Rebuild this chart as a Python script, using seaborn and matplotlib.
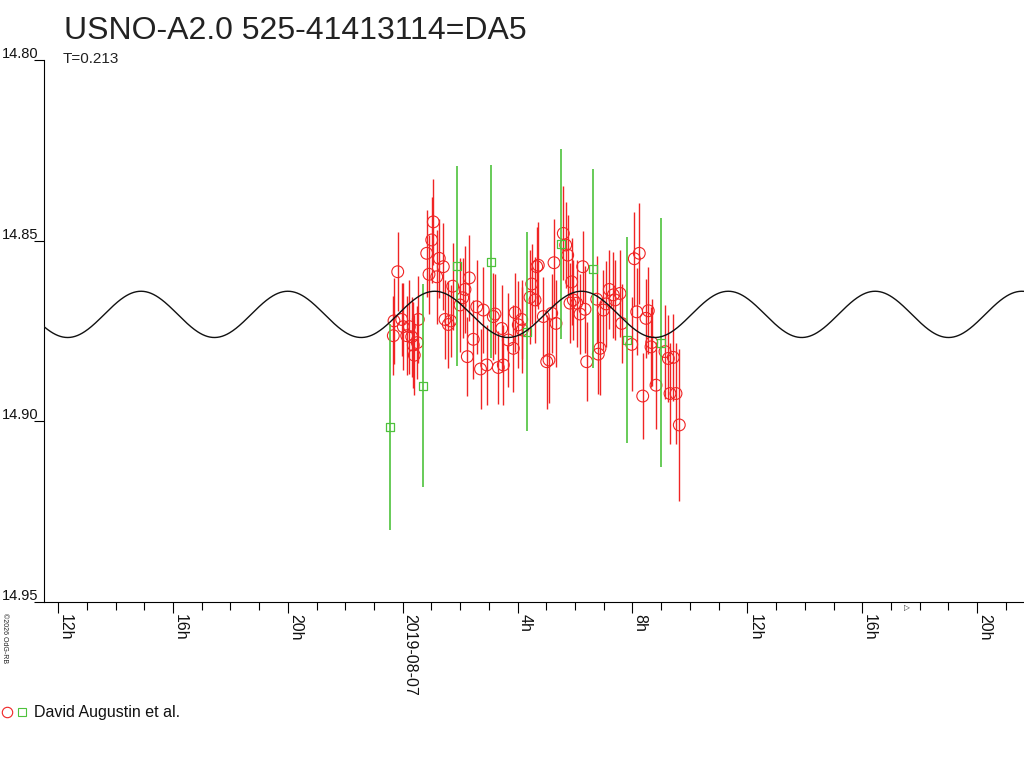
import numpy as np
import pandas as pd
import matplotlib
matplotlib.use("Agg")
import matplotlib.pyplot as plt
import matplotlib.transforms as mtransforms
from matplotlib.lines import Line2D
from matplotlib.legend_handler import HandlerTuple
import seaborn as sns

# ---------------- data ----------------
title = "USNO-A2.0 525-41413114=DA5"
period_label = "T=0.213"
observer = "David Augustin et al."

# hours relative to 2019-08-07 00:00
red_hours = [-0.327, -0.303, -0.174, -0.035, 0.021, 0.139, 0.230, 0.313, 0.369, 0.404,
             0.508, 0.543, 0.836, 0.916, 1.010, 1.065, 1.184, 1.274, 1.414, 1.473,
             1.588, 1.671, 1.741, 1.995, 2.089, 2.169, 2.249, 2.319, 2.458, 2.577,
             2.709, 2.806, 2.925, 3.155, 3.214, 3.329, 3.447, 3.503, 3.677, 3.851,
             3.910, 4.025, 4.143, 4.160, 4.432, 4.492, 4.607, 4.666, 4.721, 4.896,
             5.014, 5.094, 5.188, 5.268, 5.338, 5.592, 5.675, 5.745, 5.825, 5.884,
             5.940, 6.058, 6.173, 6.267, 6.347, 6.407, 6.755, 6.811, 6.870, 6.985,
             7.079, 7.194, 7.333, 7.392, 7.566, 7.625, 7.974, 8.064, 8.148, 8.238,
             8.357, 8.471, 8.552, 8.646, 8.670, 8.820, 9.133, 9.248, 9.307, 9.422,
             9.516, 9.631]
red_mag = [14.8763, 14.8722, 14.8586, 14.8718, 14.8738, 14.8763, 14.8738, 14.8766, 14.8789, 14.8817,
           14.8782, 14.8718, 14.8535, 14.8593, 14.8498, 14.8448, 14.8600, 14.8549, 14.8572, 14.8718,
           14.8732, 14.8722, 14.8626, 14.8678, 14.8658, 14.8635, 14.8821, 14.8603, 14.8773, 14.8683,
           14.8855, 14.8692, 14.8844, 14.8710, 14.8703, 14.8851, 14.8743, 14.8844, 14.8775, 14.8798,
           14.8699, 14.8733, 14.8718, 14.8747, 14.8657, 14.8620, 14.8664, 14.8572, 14.8568, 14.8710,
           14.8835, 14.8830, 14.8701, 14.8561, 14.8729, 14.8480, 14.8512, 14.8540, 14.8673, 14.8614,
           14.8664, 14.8673, 14.8703, 14.8572, 14.8690, 14.8835, 14.8662, 14.8814, 14.8798, 14.8692,
           14.8675, 14.8635, 14.8650, 14.8664, 14.8646, 14.8729, 14.8787, 14.8550, 14.8697, 14.8535,
           14.8930, 14.8715, 14.8694, 14.8794, 14.8782, 14.8900, 14.8807, 14.8826, 14.8923, 14.8823,
           14.8923, 14.9010]
red_err = [0.011, 0.012, 0.011, 0.010, 0.012, 0.011, 0.013, 0.011, 0.012, 0.011,
           0.010, 0.012, 0.012, 0.011, 0.012, 0.012, 0.013, 0.011, 0.012, 0.011,
           0.012, 0.010, 0.012, 0.013, 0.011, 0.012, 0.011, 0.012, 0.011, 0.013,
           0.011, 0.012, 0.011, 0.012, 0.011, 0.010, 0.012, 0.011, 0.013, 0.012,
           0.011, 0.012, 0.011, 0.012, 0.013, 0.011, 0.012, 0.011, 0.012, 0.011,
           0.013, 0.012, 0.011, 0.012, 0.012, 0.013, 0.012, 0.011, 0.011, 0.012,
           0.011, 0.012, 0.011, 0.010, 0.012, 0.011, 0.012, 0.011, 0.013, 0.011,
           0.012, 0.011, 0.012, 0.011, 0.012, 0.011, 0.013, 0.013, 0.012, 0.014,
           0.012, 0.011, 0.012, 0.011, 0.012, 0.012, 0.013, 0.012, 0.014, 0.012,
           0.014, 0.021]

green_hours = [-0.442, 0.717, 1.880, 3.075, 4.318, 5.501, 6.637, 7.800, 8.983]
green_mag = [14.9016, 14.8901, 14.8569, 14.8558, 14.8752, 14.8508, 14.8578, 14.8774, 14.8782]
green_err = [0.0285, 0.0280, 0.0277, 0.0268, 0.0275, 0.0263, 0.0275, 0.0285, 0.0345]

# fitted model (sine with period T)
model_period_h = 0.213 * 24.0
model_mean = 14.8704
model_amp = 0.0064
model_max_epoch_h = 11.337

xtick_hours = [-12, -8, -4, 0, 4, 8, 12, 16, 20]
xtick_labels = ["12h", "16h", "20h", "2019-08-07", "4h", "8h", "12h", "16h", "20h"]
ytick_values = [14.80, 14.85, 14.90, 14.95]
ytick_labels = ["14.80", "14.85", "14.90", "14.95"]

x_min, x_max = -12.49, 21.633
y_top, y_bottom = 14.80, 14.95

# ---------------- style ----------------
sns.set_style("white")
plt.rcParams["font.family"] = ["Liberation Sans", "DejaVu Sans"]

RED = "#f02424"
GREEN = "#4ec23c"

fig = plt.figure(figsize=(10.24, 7.68), dpi=100)
ax = fig.add_axes([44 / 1024, (768 - 602) / 768, (1024 - 44) / 1024, (602 - 60) / 768])

df_red = pd.DataFrame({"h": red_hours, "mag": red_mag, "err": red_err})
df_green = pd.DataFrame({"h": green_hours, "mag": green_mag, "err": green_err})

# error bars
ax.vlines(df_red["h"], df_red["mag"] - df_red["err"], df_red["mag"] + df_red["err"],
          color=RED, lw=1.0, zorder=2)
sns.scatterplot(data=df_red, x="h", y="mag", ax=ax, marker="o", s=72,
                facecolor="none", edgecolor=RED, linewidth=0.8, zorder=3, legend=False)
ax.vlines(df_green["h"], df_green["mag"] - df_green["err"], df_green["mag"] + df_green["err"],
          color=GREEN, lw=1.2, zorder=4)
sns.scatterplot(data=df_green, x="h", y="mag", ax=ax, marker="s", s=34,
                facecolor="none", edgecolor=GREEN, linewidth=0.9, zorder=5, legend=False)

# model curve
t_grid = np.linspace(x_min, x_max, 1200)
model = model_mean - model_amp * np.cos(2 * np.pi * (t_grid - model_max_epoch_h) / model_period_h)
sns.lineplot(x=t_grid, y=model, ax=ax, color="#111111", lw=1.0, zorder=6)

ax.set_xlim(x_min, x_max)
ax.set_ylim(y_bottom, y_top)
ax.set_xlabel("")
ax.set_ylabel("")

for s in ["top", "right"]:
    ax.spines[s].set_visible(False)
for s in ["left", "bottom"]:
    ax.spines[s].set_color("black")
    ax.spines[s].set_linewidth(0.8)

ax.set_xticks(xtick_hours)
ax.set_xticklabels(xtick_labels, rotation=-90, ha="left", fontsize=11.5, color="#111111")
ax.set_xticks(np.arange(-12, 22, 1), minor=True)
ax.tick_params(axis="x", which="major", direction="out", length=8, width=0.8, pad=0.5,
               color="black", bottom=True)
ax.tick_params(axis="x", which="minor", direction="out", length=5.8, width=0.8,
               color="black", bottom=True)

ax.set_yticks(ytick_values)
ax.tick_params(axis="y", which="major", direction="out", length=7, width=0.8,
               labelleft=False, left=True, color="black")
ytrans = mtransforms.offset_copy(
    mtransforms.blended_transform_factory(ax.transAxes, ax.transData),
    fig=fig, x=-4, y=1.5, units="points")
for v, lab in zip(ytick_values, ytick_labels):
    ax.text(0, v, lab, transform=ytrans, ha="right", va="baseline",
            fontsize=10.5, color="#111111", clip_on=False)

# small marker below the axis
ax.text(17.56, -0.011, "\u25b7", transform=mtransforms.blended_transform_factory(ax.transData, ax.transAxes),
        fontsize=5.5, ha="center", va="center", family="DejaVu Sans", clip_on=False)

# titles
fig.text(64 / 1024, 1 - 39 / 768, title, fontsize=23, ha="left", va="baseline", color="#222222")
fig.text(63 / 1024, 1 - 63 / 768, period_label, fontsize=11, ha="left", va="baseline", color="#222222")

# copyright
fig.text(1 / 1024, 1 - 613 / 768, "\u00a92026 OdG-RB", rotation=-90, fontsize=5,
         ha="left", va="top", color="#222222")

# legend
h_c = Line2D([], [], marker="o", ls="none", mfc="none", mec=RED, ms=7.5, mew=0.8)
h_s = Line2D([], [], marker="s", ls="none", mfc="none", mec=GREEN, ms=5.5, mew=0.8)
fig.legend([(h_c, h_s)], [observer], handler_map={tuple: HandlerTuple(ndivide=None, pad=0.2)},
           loc="center left", bbox_to_anchor=(0.0, 1 - 713 / 768), bbox_transform=fig.transFigure,
           frameon=False, handlelength=1.6, handletextpad=0.45, borderpad=0, borderaxespad=0.1,
           fontsize=11.5, labelcolor="#111111")

fig.savefig("out.png", dpi=100)
